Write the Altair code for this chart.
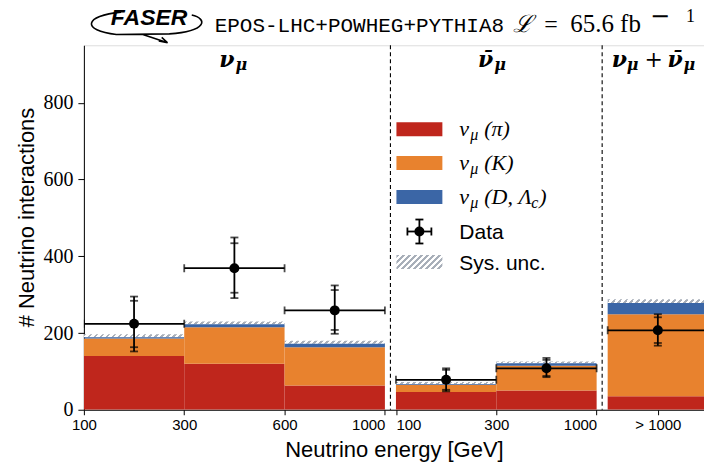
import altair as alt
import pandas as pd

# ---------------- data ----------------
panel_names = ["nu_mu", "nubar_mu", "nu_mu + nubar_mu"]
bin_panel = [0, 0, 0, 1, 1, 2]
edge_labels = [["100", "300", "600", "1000"], ["100", "300", "1000"], ["> 1000"]]
components = ["pi", "K", "D"]
comp_colors = ["#bf261c", "#e8822e", "#3b66a6"]
pi_counts = [140, 120, 63, 46, 50, 35]
k_counts = [46, 95, 100, 19, 65, 214]
d_counts = [3, 8, 9, 2, 6, 29]
sys_unc = [8, 7, 8, 5, 5, 10]
data_counts = [224, 369, 259, 78, 108, 207]
stat_hi = [284, 434, 312, 104, 130, 241]
stat_lo = [163, 305, 208, 52, 88, 174]
tot_hi = [295, 449, 324, 108, 135, 249]
tot_lo = [152, 291, 198, 48, 85, 167]
y_ticks = [0, 200, 400, 600, 800]

# ---------------- layout helpers ----------------
W, H = 621, 365
GAP = 0.11
X_MAX = 6.18
Y_MAX = 950

x_lo, x_hi, panel_span = [], [], []
tick_vals, tick_text, tick_align = [], [], []
pos = 0.0
for p in range(len(panel_names)):
    idx = [i for i, b in enumerate(bin_panel) if b == p]
    start = pos
    for i in idx:
        x_lo.append(round(pos, 3))
        x_hi.append(round(pos + 1, 3))
        pos += 1
    labs = edge_labels[p]
    if len(labs) == len(idx) + 1:
        for k, lab in enumerate(labs):
            tick_vals.append(round(start + k, 3))
            tick_text.append(lab)
            if k == 0 and p > 0:
                tick_align.append("left")
            elif k == len(labs) - 1 and p < len(panel_names) - 1:
                tick_align.append("right")
            else:
                tick_align.append("center")
    else:
        for k, lab in enumerate(labs):
            tick_vals.append(round(start + k + 0.5, 3))
            tick_text.append(lab)
            tick_align.append("center")
    panel_span.append((round(start, 3), round(pos, 3)))
    pos += GAP

dividers = [round((panel_span[p][1] + panel_span[p + 1][0]) / 2, 3)
            for p in range(len(panel_span) - 1)]

label_expr = "''"
for v, t in reversed(list(zip(tick_vals, tick_text))):
    label_expr = f"abs(datum.value - {v}) < 0.01 ? '{t}' : ({label_expr})"
conds = []
for v, a in zip(tick_vals, tick_align):
    if a != "center":
        conds.append({"test": f"abs(datum.value - {v}) < 0.01", "value": a})

XS = alt.Scale(domain=[0, X_MAX], nice=False, zero=False)
YS = alt.Scale(domain=[0, Y_MAX], nice=False)
XAX = alt.Axis(values=tick_vals, labelExpr=label_expr, title="Neutrino energy [GeV]",
               labelAlign={"condition": conds, "value": "center"},
               labelFont="Liberation Sans", labelFontSize=15, labelPadding=3,
               tickSize=5, tickColor="black", domainColor="black", grid=False,
               titleFont="Liberation Sans", titleFontSize=22, titleFontWeight="normal",
               titleBaseline="alphabetic", titleY=47, labelColor="black", titleColor="black")
YAX = alt.Axis(values=y_ticks, title="# Neutrino interactions", grid=False,
               labelFont="Liberation Serif", labelFontSize=20, labelPadding=5,
               tickSize=6, tickColor="black", domainColor="black",
               titleFont="Liberation Sans", titleFontSize=22, titleFontWeight="normal",
               titleAngle=270, titleX=-50, titleY=172, titleBaseline="alphabetic",
               titleAlign="center", labelColor="black", titleColor="black")


def X(f):
    return alt.X(f, type="quantitative", scale=XS, axis=XAX)


def Y(f):
    return alt.Y(f, type="quantitative", scale=YS, axis=YAX)


def hatch(width_px, height_px, period=6.0, frac=0.45, color="#a8afb9"):
    a = height_px / width_px
    L = (1 + a) / (1 + a * a)
    step = period / (width_px * (1 + a))
    stops = []
    o = 0.0
    while o < 1.0:
        o1 = min(o + frac * step, 1.0)
        o2 = min(o + step, 1.0)
        stops += [{"offset": round(o, 4), "color": color},
                  {"offset": round(o1, 4), "color": color},
                  {"offset": round(o1, 4), "color": "white"},
                  {"offset": round(o2, 4), "color": "white"}]
        o += step
    return {"gradient": "linear", "x1": 0, "y1": 0, "x2": L, "y2": L * a, "stops": stops}


# ---------------- tables ----------------
rows = []
for i in range(len(bin_panel)):
    base = 0
    for c, vals in zip(components, [pi_counts, k_counts, d_counts]):
        rows.append({"x_lo": x_lo[i], "x_hi": x_hi[i], "y0": base, "y1": base + vals[i], "comp": c})
        base += vals[i]
stack_df = pd.DataFrame(rows)
totals = [a + b + c for a, b, c in zip(pi_counts, k_counts, d_counts)]
sys_df = pd.DataFrame({"x_lo": x_lo, "x_hi": x_hi, "lo": totals,
                       "hi": [t + s for t, s in zip(totals, sys_unc)]})
xc = [(a + b) / 2 for a, b in zip(x_lo, x_hi)]
pts_df = pd.DataFrame({"xc": xc, "x_lo": x_lo, "x_hi": x_hi, "val": data_counts,
                       "tlo": tot_lo, "thi": tot_hi})
vcap_df = pd.DataFrame({"xc": xc * 4, "y": stat_lo + stat_hi + tot_lo + tot_hi})
hcap_df = pd.DataFrame({"x": x_lo + x_hi, "y": data_counts * 2})
div_df = pd.DataFrame({"xd": dividers})

sys_layer = alt.Chart(sys_df).mark_rect(fill=hatch(100, 3, period=6), clip=True).encode(
    x=X("x_lo"), x2="x_hi", y=Y("lo"), y2="hi")
stack_layer = alt.Chart(stack_df).mark_rect(clip=True).encode(
    x=X("x_lo"), x2="x_hi", y=Y("y0"), y2="y1",
    color=alt.Color("comp:N", scale=alt.Scale(domain=components, range=comp_colors), legend=None))
div_layer = alt.Chart(div_df).mark_rule(strokeDash=[4, 3], color="black", strokeWidth=1.1).encode(
    x=X("xd"), y=alt.value(0), y2=alt.value(H))
herr = alt.Chart(pts_df).mark_rule(color="black", strokeWidth=1.8, clip=True).encode(
    x=X("x_lo"), x2="x_hi", y=Y("val"))
hcap = alt.Chart(hcap_df).mark_tick(orient="vertical", color="black", size=8, thickness=1.8,
                                    clip=True).encode(x=X("x"), y=Y("y"))
verr = alt.Chart(pts_df).mark_rule(color="black", strokeWidth=1.8).encode(
    x=X("xc"), y=Y("tlo"), y2="thi")
vcap = alt.Chart(vcap_df).mark_tick(orient="horizontal", color="black", size=8,
                                    thickness=1.8).encode(x=X("xc"), y=Y("y"))
pts = alt.Chart(pts_df).mark_point(filled=True, color="black", size=100, opacity=1).encode(
    x=X("xc"), y=Y("val"))


# ---------------- text helpers ----------------
def txt(s, x, y, size, font="Liberation Serif", style="normal", weight="normal",
        align="left", dx=0, dy=0, color="black"):
    return alt.Chart(pd.DataFrame({"t": [s]})).mark_text(
        text=s, font=font, fontSize=size, fontStyle=style, fontWeight=weight, align=align,
        baseline="alphabetic", dx=dx, dy=dy, color=color).encode(x=alt.value(x), y=alt.value(y))


def dtxt(s, xv, y, size, style="italic", weight="bold", align="left", dx=0, font="DejaVu Serif"):
    return alt.Chart(pd.DataFrame({"xv": [xv]})).mark_text(
        text=s, font=font, fontSize=size, fontStyle=style, fontWeight=weight, align=align,
        baseline="alphabetic", dx=dx, color="black").encode(x=X("xv"), y=alt.value(y))


NU, NUBAR, MU = "\u03bd", "\u03bd\u0304", "\u03bc"
c0 = sum(panel_span[0]) / 2
c1 = sum(panel_span[1]) / 2
s2 = panel_span[2][0]
titles = [
    dtxt(NU, c0, 22, 22, align="right"), dtxt(MU, c0, 25, 16, dx=1),
    dtxt(NUBAR, c1, 22, 22, align="right", dx=-3), dtxt(MU, c1, 25, 16, dx=-2),
    dtxt(NU, s2, 22, 22, dx=4), dtxt(MU, s2, 25, 16, dx=19),
    dtxt("+", s2, 22, 22, style="normal", weight="normal", dx=37),
    dtxt(NUBAR, s2, 22, 22, dx=60), dtxt(MU, s2, 25, 16, dx=76),
]

# ---------------- legend ----------------
leg_y = [84, 118, 152, 186.5, 217]
LX0, LX1, TX = 313, 359, 376
legend = []
comp_text = [["(\u03c0)"], ["(K)"], ["(D, \u039b", "c", ")"]]
for k, col in enumerate(comp_colors):
    yc = leg_y[k]
    legend.append(alt.Chart(pd.DataFrame({"a": [0]})).mark_rect(color=col).encode(
        x=alt.value(LX0), x2=alt.value(LX1), y=alt.value(yc - 7), y2=alt.value(yc + 7)))
    legend.append(txt(NU, TX, yc + 7, 22, style="italic"))
    legend.append(txt(MU, TX + 11, yc + 11, 16, style="italic"))
    pieces = comp_text[k]
    legend.append(txt(pieces[0], TX + 25, yc + 7, 22, style="italic"))
    if len(pieces) > 1:
        legend.append(txt(pieces[1], TX + 72, yc + 11, 16, style="italic"))
        legend.append(txt(pieces[2], TX + 80, yc + 7, 22, style="italic"))
yd = leg_y[3]
one = pd.DataFrame({"a": [0]})
legend += [
    alt.Chart(one).mark_rule(color="black", strokeWidth=1.8).encode(
        x=alt.value(LX0 + 11), x2=alt.value(LX1 - 11), y=alt.value(yd)),
    alt.Chart(one).mark_rule(color="black", strokeWidth=1.8).encode(
        x=alt.value((LX0 + LX1) / 2), y=alt.value(yd - 12), y2=alt.value(yd + 12)),
    alt.Chart(one).mark_rule(color="black", strokeWidth=1.8).encode(
        x=alt.value((LX0 + LX1) / 2 - 4), x2=alt.value((LX0 + LX1) / 2 + 4), y=alt.value(yd - 12)),
    alt.Chart(one).mark_rule(color="black", strokeWidth=1.8).encode(
        x=alt.value((LX0 + LX1) / 2 - 4), x2=alt.value((LX0 + LX1) / 2 + 4), y=alt.value(yd + 12)),
    alt.Chart(one).mark_rule(color="black", strokeWidth=1.8).encode(
        x=alt.value(LX0 + 11), y=alt.value(yd - 4), y2=alt.value(yd + 4)),
    alt.Chart(one).mark_rule(color="black", strokeWidth=1.8).encode(
        x=alt.value(LX1 - 11), y=alt.value(yd - 4), y2=alt.value(yd + 4)),
    alt.Chart(one).mark_point(filled=True, color="black", size=100, opacity=1).encode(
        x=alt.value((LX0 + LX1) / 2), y=alt.value(yd)),
    txt("Data", TX, yd + 8, 21, font="Liberation Sans"),
    alt.Chart(one).mark_rect(fill=hatch(46, 14, period=6)).encode(
        x=alt.value(LX0), x2=alt.value(LX1), y=alt.value(leg_y[4] - 7), y2=alt.value(leg_y[4] + 7)),
    txt("Sys. unc.", TX, leg_y[4] + 8, 21, font="Liberation Sans"),
]

# ---------------- header ----------------
swoosh = ("M -0.42 -0.19 C -1.05 -0.13 -1.1 0.12 -0.5 0.19 L 0.4 0.18 "
          "C 1.05 0.13 1.05 -0.08 0.78 -0.14 M -0.05 0.19 L 0.37 0.33 "
          "M 0.37 0.33 L 0.22 0.3 M 0.37 0.33 L 0.27 0.24")
header = [
    alt.Chart(one).mark_point(shape=swoosh, size=13924, filled=False, stroke="black",
                              strokeWidth=1.6, opacity=1).encode(
        x=alt.value(62), y=alt.value(-22)),
    txt("FASER", 27, -20, 23, font="Liberation Sans", style="italic", weight="bold"),
    txt("EPOS-LHC+POWHEG+PYTHIA8", 131, -13, 21, font="Liberation Mono"),
    txt("\u2112", 430, -13, 24, font="DejaVu Serif", style="italic"),
    txt("=", 461, -13, 24),
    txt("65.6 fb", 487, -13, 25),
    txt("\u2212", 567, -21, 24, font="DejaVu Sans"),
    txt("1", 603, -23, 18),
]

chart = alt.layer(
    sys_layer, stack_layer, div_layer, herr, hcap, verr, vcap, pts,
    *titles, *legend, *header
).properties(
    width=W, height=H, autosize="none",
    padding={"left": 84, "top": 45, "right": 0, "bottom": 55},
).configure_view(stroke="#222222", strokeWidth=1.5).configure(background="white")

chart.save("out.html", embed_options={"renderer": "svg", "actions": False})
